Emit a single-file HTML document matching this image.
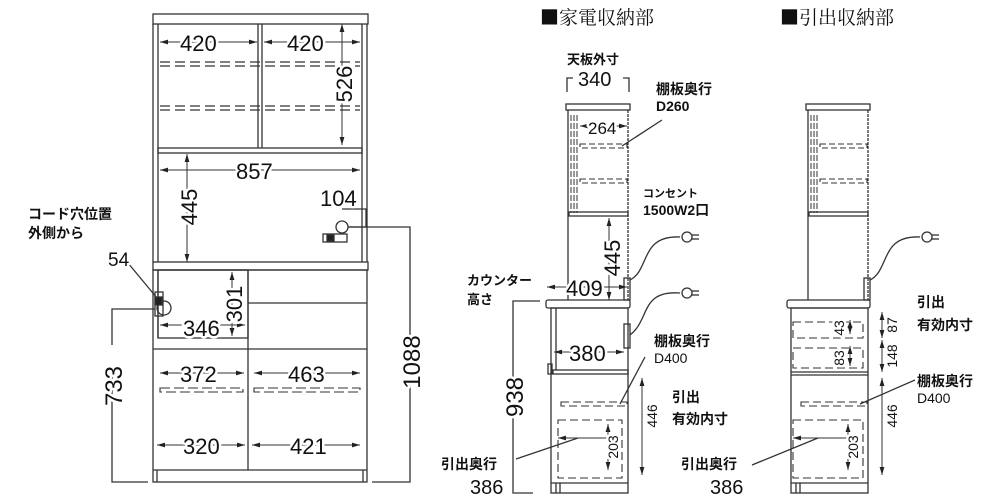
<!DOCTYPE html><html><head><style>body{margin:0;background:#fff}svg{display:block}text{font-family:"Liberation Sans","Noto Sans CJK JP",sans-serif;fill:#111;paint-order:stroke;stroke:#fff;stroke-width:5px;stroke-linejoin:round}</style></head><body>
<svg width="1000" height="500" viewBox="0 0 1000 500" xmlns="http://www.w3.org/2000/svg">
<defs><marker id="a" viewBox="0 0 10 6" refX="10" refY="3" markerWidth="8" markerHeight="5" orient="auto-start-reverse"><path d="M0,0L10,3L0,6z" fill="#222"/></marker></defs>
<g stroke="#333" stroke-width="1.3" fill="none">
<rect x="153" y="14" width="215" height="10"/>
<line x1="153" y1="24" x2="153" y2="262"/><line x1="158" y1="24" x2="158" y2="262"/>
<line x1="367" y1="24" x2="367" y2="262"/><line x1="362" y1="24" x2="362" y2="262"/>
<line x1="258" y1="24" x2="258" y2="148"/><line x1="262" y1="24" x2="262" y2="148"/>
<rect x="158" y="148" width="204" height="5"/>
<g stroke-dasharray="10,5"><line x1="160" y1="62" x2="360" y2="62"/><line x1="160" y1="66" x2="360" y2="66"/><line x1="160" y1="106" x2="360" y2="106"/><line x1="160" y1="110" x2="360" y2="110"/></g>
<rect x="153" y="262" width="215" height="8"/>
<rect x="153" y="270" width="214" height="212"/>
<line x1="158" y1="270" x2="158" y2="338"/>
<rect x="158" y="270" width="90" height="68"/>
<line x1="248" y1="270" x2="248" y2="470"/>
<line x1="248" y1="303" x2="367" y2="303"/>
<line x1="153" y1="349" x2="367" y2="349"/>
<line x1="153" y1="470" x2="367" y2="470"/>
<line x1="157" y1="470" x2="157" y2="482"/><line x1="363" y1="470" x2="363" y2="482"/>
<g stroke-dasharray="10,4" stroke-width="1.1"><rect x="160" y="388" width="83" height="4"/><rect x="254" y="388" width="106" height="4"/></g>
<circle cx="342" cy="227" r="6"/><rect x="323" y="234" width="24" height="8"/><rect x="327" y="235" width="7" height="6" fill="#222"/>
<circle cx="164" cy="308" r="7"/><rect x="155" y="292" width="8" height="24"/><rect x="155" y="297" width="7" height="8" fill="#222"/>
<polyline points="342,209 366,209 366,227 348,227"/>
<polyline points="348,227 410,227 410,345"/><polyline points="410,380 410,482 372,482"/>
<polyline points="112,368 112,482 148,482"/><polyline points="155,309 112,309 112,345"/>
<line x1="128" y1="263" x2="157" y2="298"/>
<g marker-start="url(#a)" marker-end="url(#a)" stroke-width="1"><line x1="160" y1="42" x2="257" y2="42"/><line x1="264" y1="42" x2="360" y2="42"/><line x1="342" y1="24" x2="342" y2="145"/><line x1="160" y1="170" x2="360" y2="170"/><line x1="187" y1="154" x2="187" y2="262"/><line x1="160" y1="325" x2="245" y2="325"/><line x1="232" y1="272" x2="232" y2="336"/><line x1="160" y1="373" x2="244" y2="373"/><line x1="254" y1="373" x2="360" y2="373"/><line x1="157" y1="445" x2="245" y2="445"/><line x1="252" y1="445" x2="360" y2="445"/></g>
<rect x="566" y="104" width="64" height="6"/>
<line x1="568" y1="110" x2="568" y2="300"/><line x1="628" y1="110" x2="628" y2="300" stroke-dasharray="3,1"/>
<g stroke-width="1"><line x1="571" y1="115" x2="571" y2="213" stroke-dasharray="6,2"/><line x1="574" y1="115" x2="574" y2="213" stroke-dasharray="6,2"/><line x1="577" y1="115" x2="577" y2="213" stroke-dasharray="6,2"/></g>
<rect x="569" y="212" width="59" height="4"/>
<g stroke-dasharray="6,3" stroke-width="1.1"><rect x="580" y="144" width="47" height="4"/><rect x="580" y="179" width="47" height="4"/></g>
<rect x="624" y="278" width="6" height="22"/><rect x="546" y="300" width="84" height="8" rx="2"/>
<rect x="551" y="308" width="77" height="185"/><line x1="556" y1="308" x2="556" y2="370"/>
<rect x="553" y="370" width="75" height="4"/><rect x="548" y="364" width="4" height="10"/>
<rect x="624" y="324" width="6" height="24"/>
<line x1="551" y1="483" x2="628" y2="483"/><line x1="556" y1="483" x2="556" y2="493"/><line x1="560" y1="483" x2="560" y2="493"/>
<g stroke-dasharray="8,4" stroke-width="1.1"><rect x="561" y="402" width="66" height="4"/><rect x="558" y="420" width="64" height="58"/></g>
<path d="M630,280 C650,270 640,235 680,237"/><path d="M630,335 C650,320 640,290 680,293"/>
<circle cx="687" cy="237" r="5"/><line x1="692" y1="235" x2="699" y2="235"/><line x1="692" y1="239" x2="699" y2="239"/>
<circle cx="687" cy="293" r="5"/><line x1="692" y1="291" x2="699" y2="291"/><line x1="692" y1="295" x2="699" y2="295"/>
<polyline points="567,92 567,78 573,78"/><polyline points="623,78 629,78 629,92"/>
<line x1="622" y1="146" x2="662" y2="120"/><line x1="620" y1="404" x2="645" y2="357"/>
<line x1="516" y1="459" x2="578" y2="438"/>
<polyline points="540,301 513,301 513,380"/><polyline points="513,415 513,493 533,493"/>
<g marker-start="url(#a)" marker-end="url(#a)" stroke-width="1"><line x1="580" y1="126" x2="627" y2="126"/><line x1="609" y1="218" x2="609" y2="300"/><line x1="547" y1="287" x2="627" y2="287"/><line x1="554" y1="352" x2="624" y2="352"/><line x1="642" y1="378" x2="642" y2="475"/><line x1="608" y1="424" x2="608" y2="470"/><line x1="558" y1="438" x2="607" y2="438" marker-start="url(#a)" marker-end="none"/></g>
<rect x="806" y="104" width="64" height="6"/>
<line x1="808" y1="110" x2="808" y2="300"/><line x1="868" y1="110" x2="868" y2="300" stroke-dasharray="3,1"/>
<g stroke-width="1"><line x1="811" y1="115" x2="811" y2="213" stroke-dasharray="6,2"/><line x1="814" y1="115" x2="814" y2="213" stroke-dasharray="6,2"/><line x1="817" y1="115" x2="817" y2="213" stroke-dasharray="6,2"/></g>
<rect x="809" y="212" width="59" height="4"/>
<g stroke-dasharray="6,3" stroke-width="1.1"><rect x="820" y="144" width="47" height="4"/><rect x="820" y="179" width="47" height="4"/></g>
<rect x="864" y="278" width="6" height="22"/><rect x="787" y="300" width="83" height="8" rx="2"/>
<rect x="791" y="308" width="77" height="185"/><line x1="791" y1="372" x2="868" y2="372"/><line x1="791" y1="375" x2="868" y2="375"/>
<line x1="791" y1="483" x2="868" y2="483"/><line x1="796" y1="483" x2="796" y2="493"/><line x1="800" y1="483" x2="800" y2="493"/>
<g stroke-dasharray="8,4" stroke-width="1.1"><rect x="793" y="322" width="70" height="16"/><rect x="793" y="348" width="70" height="20"/><rect x="801" y="402" width="66" height="4"/><rect x="793" y="420" width="70" height="58"/></g>
<path d="M870,280 C890,270 880,235 920,237"/><circle cx="927" cy="237" r="5"/><line x1="932" y1="235" x2="939" y2="235"/><line x1="932" y1="239" x2="939" y2="239"/>
<line x1="860" y1="404" x2="915" y2="380"/><line x1="752" y1="465" x2="818" y2="438"/>
<g marker-start="url(#a)" marker-end="url(#a)" stroke-width="1"><line x1="882" y1="312" x2="882" y2="338"/><line x1="882" y1="340" x2="882" y2="372"/><line x1="882" y1="378" x2="882" y2="475"/><line x1="850" y1="320" x2="850" y2="334"/><line x1="850" y1="346" x2="850" y2="366"/><line x1="848" y1="424" x2="848" y2="470"/><line x1="793" y1="438" x2="847" y2="438" marker-start="url(#a)" marker-end="none"/></g>
</g>
<g>
<text x="180" y="51" style="font-size:22px">420</text><text x="287" y="51" style="font-size:22px">420</text>
<text x="236" y="179" style="font-size:22px">857</text>
<text x="320" y="206" style="font-size:22px">104</text>
<text x="183" y="336" style="font-size:22px">346</text>
<text x="180" y="382" style="font-size:22px">372</text><text x="288" y="382" style="font-size:22px">463</text>
<text x="183" y="454" style="font-size:22px">320</text><text x="290" y="454" style="font-size:22px">421</text>
<text x="108" y="266" style="font-size:19px">54</text>
<text transform="translate(352,84) rotate(-90)" text-anchor="middle" style="font-size:22px">526</text>
<text transform="translate(197,207) rotate(-90)" text-anchor="middle" style="font-size:22px">445</text>
<text transform="translate(242,304) rotate(-90)" text-anchor="middle" style="font-size:22px">301</text>
<text transform="translate(420,362) rotate(-90)" text-anchor="middle" style="font-size:24px">1088</text>
<text transform="translate(122,386) rotate(-90)" text-anchor="middle" style="font-size:24px">733</text>
<text transform="translate(523,397) rotate(-90)" text-anchor="middle" style="font-size:24px">938</text>
<text transform="translate(620,258) rotate(-90)" text-anchor="middle" style="font-size:22px">445</text>
<text x="566" y="296" style="font-size:22px">409</text>
<text x="578" y="86" style="font-size:20px">340</text>
<text x="588" y="134" style="font-size:17px">264</text>
<text x="569" y="361" style="font-size:22px">380</text>
<text x="470" y="494" style="font-size:20px">386</text><text x="710" y="494" style="font-size:20px">386</text>
</g>
<g font-size="14">
<text transform="translate(657,416) rotate(-90)" text-anchor="middle">446</text>
<text transform="translate(618,447) rotate(-90)" text-anchor="middle">203</text>
<text transform="translate(897,416) rotate(-90)" text-anchor="middle">446</text>
<text transform="translate(858,447) rotate(-90)" text-anchor="middle">203</text>
<text transform="translate(897,325) rotate(-90)" text-anchor="middle">87</text>
<text transform="translate(897,356) rotate(-90)" text-anchor="middle">148</text>
<text transform="translate(844,328) rotate(-90)" text-anchor="middle">43</text>
<text transform="translate(844,358) rotate(-90)" text-anchor="middle">83</text>
</g>
<g font-weight="bold" font-size="14">
<text x="28" y="219">コード穴位置</text><text x="28" y="238">外側から</text>
<text x="567" y="64" font-size="13">天板外寸</text>
<text x="656" y="94">棚板奥行</text><text x="656" y="111">D260</text>
<text x="643" y="197" font-size="11">コンセント</text><text x="643" y="215">1500W2口</text>
<text x="467" y="285" font-size="13">カウンター</text><text x="467" y="304" font-size="13">高さ</text>
<text x="654" y="346">棚板奥行</text><text x="654" y="363" font-weight="normal">D400</text>
<text x="672" y="402">引出</text><text x="672" y="424">有効内寸</text>
<text x="441" y="469">引出奥行</text><text x="681" y="469">引出奥行</text>
<text x="917" y="307">引出</text><text x="917" y="330">有効内寸</text>
<text x="917" y="386">棚板奥行</text><text x="917" y="403" font-weight="normal">D400</text>
</g>
<text x="540" y="24" style="font-size:19px;font-family:'Noto Serif CJK SC','Liberation Serif',serif">■家電収納部</text>
<text x="780" y="24" style="font-size:19px;font-family:'Noto Serif CJK SC','Liberation Serif',serif">■引出収納部</text>
</svg></body></html>
